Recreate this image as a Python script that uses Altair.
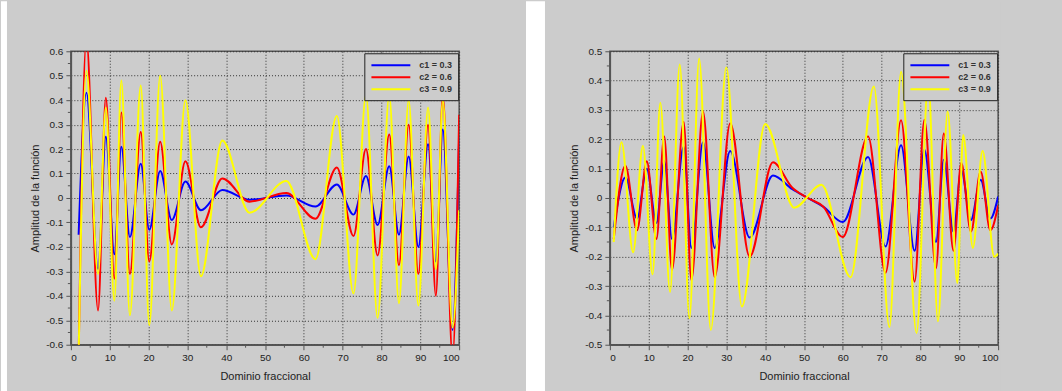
import altair as alt
import pandas as pd

SERIES = ["c1 = 0.3", "c2 = 0.6", "c3 = 0.9"]
COLORS = ["#0000ff", "#ff0000", "#ffff00"]

# ---- left panel (extrema positions) ----
left_x = [2, 4, 7, 9, 11.2, 13, 15.2, 18, 20.2, 23, 26, 29.5, 33.5, 39, 46, 55.5, 63, 68.5, 72.8, 76,
          79, 82, 84.5, 87, 89.5, 92, 94, 95.8, 98.3, 100]
left_c1 = [-0.15, 0.43, -0.29, 0.25, -0.23, 0.21, -0.16, 0.14, -0.13, 0.11, -0.09, 0.067, -0.05, 0.033, -0.007,
           0.01, -0.035, 0.055, -0.068, 0.09, -0.11, 0.13, -0.15, 0.17, -0.2, 0.22, -0.26, 0.28, -0.54, 0.25]
left_c2 = [-0.65, 0.65, -0.46, 0.41, -0.33, 0.35, -0.31, 0.27, -0.26, 0.23, -0.19, 0.15, -0.12, 0.08, -0.015,
           0.02, -0.085, 0.125, -0.155, 0.2, -0.235, 0.26, -0.275, 0.30, -0.31, 0.30, -0.40, 0.42, -0.65, 0.34]
left_c3 = [-0.65, 0.52, -0.31, 0.37, -0.42, 0.48, -0.48, 0.46, -0.52, 0.50, -0.46, 0.40, -0.32, 0.235, -0.06,
           0.07, -0.25, 0.335, -0.39, 0.42, -0.49, 0.42, -0.43, 0.40, -0.44, 0.37, -0.29, 0.40, -0.53, -0.05]

# ---- right panel ----
right_x12 = [1, 4, 7, 9.5, 12, 14, 16, 19, 21, 24, 27, 31, 36, 42, 47, 51, 55, 60, 66.5, 71,
             75, 78.5, 81, 84, 86, 88.5, 90.5, 93, 95.5, 98, 100]
right_c1 = [-0.1, 0.07, -0.07, 0.1, -0.085, 0.125, -0.14, 0.175, -0.17, 0.19, -0.17, 0.16, -0.135, 0.077, 0.03,
            0.0, -0.03, -0.082, 0.14, -0.165, 0.18, -0.18, 0.165, -0.15, 0.13, -0.115, 0.095, -0.075, 0.062, -0.07, 0.005]
right_c2 = [-0.14, 0.11, -0.11, 0.125, -0.14, 0.21, -0.245, 0.26, -0.28, 0.295, -0.27, 0.255, -0.2, 0.122, 0.035,
            0.0, -0.03, -0.133, 0.21, -0.255, 0.265, -0.285, 0.267, -0.24, 0.22, -0.18, 0.12, -0.115, 0.09, -0.11, -0.025]
right_x3 = [1, 3, 6, 8.5, 11, 13, 15.5, 18, 20.5, 23, 26, 30, 34, 40, 47.5, 54.5, 62, 68, 72, 75,
            79, 82, 84.5, 87, 89.5, 91, 93.5, 96, 99, 100]
right_c3 = [-0.15, 0.19, -0.185, 0.177, -0.26, 0.325, -0.32, 0.455, -0.41, 0.475, -0.45, 0.445, -0.37, 0.252, -0.033,
            0.045, -0.27, 0.38, -0.44, 0.43, -0.46, 0.40, -0.42, 0.295, -0.29, 0.215, -0.17, 0.16, -0.2, -0.19]

x_ticks = [0, 10, 20, 30, 40, 50, 60, 70, 80, 90, 100]
x_minor = [5, 15, 25, 35, 45, 55, 65, 75, 85, 95]
left_y_ticks = [-0.6, -0.5, -0.4, -0.3, -0.2, -0.1, 0, 0.1, 0.2, 0.3, 0.4, 0.5, 0.6]
left_y_minor = [-0.55, -0.45, -0.35, -0.25, -0.15, -0.05, 0.05, 0.15, 0.25, 0.35, 0.45, 0.55]
right_y_ticks = [-0.5, -0.4, -0.3, -0.2, -0.1, 0, 0.1, 0.2, 0.3, 0.4, 0.5]
right_y_minor = [-0.45, -0.35, -0.25, -0.15, -0.05, 0.05, 0.15, 0.25, 0.35, 0.45]

W, H = 389, 294
AX = "#555555"
FONT = "Liberation Sans"
BG = "#cccccc"


def long_df(parts):
    rows = []
    for name, xs, ys in parts:
        for xv, yv in zip(xs, ys):
            rows.append({"serie": name, "x": xv, "y": yv})
    return pd.DataFrame(rows)


def panel(df, yticks, yminor, ydom, strips):
    xenc = alt.X("x:Q", scale=alt.Scale(domain=[0, 100], nice=False, zero=False),
                 axis=alt.Axis(values=x_ticks, format="d", title="Dominio fraccional",
                               titleY=32, titleBaseline="middle"))
    yenc = alt.Y("y:Q", scale=alt.Scale(domain=ydom, nice=False, zero=False),
                 axis=alt.Axis(values=yticks, title="Amplitud de la función",
                               labelExpr="datum.value == 0 ? '0' : toString(round(datum.value * 10) / 10)",
                               titleX=-35, titleY=H / 2, titleAngle=-90, titleAlign="center",
                               titleBaseline="middle"))
    lines = alt.Chart(df).mark_line(strokeWidth=2, clip=True, interpolate="monotone").encode(
        x=xenc, y=yenc,
        color=alt.Color("serie:N", sort=SERIES,
                        scale=alt.Scale(domain=SERIES, range=COLORS),
                        legend=alt.Legend(title=None, orient="none", legendX=294, legendY=2,
                                          fillColor=BG, strokeColor="#222222", padding=6,
                                          symbolType="M-1,0H7", symbolSize=95, symbolStrokeWidth=2,
                                          labelOffset=37, labelFont=FONT, labelFontSize=9,
                                          labelFontWeight="bold", labelColor="#333333",
                                          rowPadding=1, cornerRadius=0)),
        order=alt.Order("x:Q"),
    )
    mx = alt.Chart(pd.DataFrame({"x": x_minor})).mark_rule(color=AX, strokeWidth=1).encode(
        x=xenc, y=alt.value(H), y2=alt.value(H + 3))
    my = alt.Chart(pd.DataFrame({"y": yminor})).mark_rule(color=AX, strokeWidth=1).encode(
        y=yenc, x=alt.value(0), x2=alt.value(-3))
    one = pd.DataFrame({"k": [0]})
    layers = []
    for (a, b, col) in strips:
        layers.append(alt.Chart(one).mark_rect(color=col).encode(
            x=alt.value(a), x2=alt.value(b), y=alt.value(-50), y2=alt.value(H + 47)))
    layers += [mx, my, lines]
    return alt.layer(*layers).properties(width=W, height=H)


left_df = long_df([(SERIES[0], left_x, left_c1), (SERIES[1], left_x, left_c2), (SERIES[2], left_x, left_c3)])
right_df = long_df([(SERIES[0], right_x12, right_c1), (SERIES[1], right_x12, right_c2),
                    (SERIES[2], right_x3, right_c3)])

left = panel(left_df, left_y_ticks, left_y_minor, [-0.6, 0.6],
             [(-70, -64, "white"), (W + 67, W + 86, "white")])
right = panel(right_df, right_y_ticks, right_y_minor, [-0.5, 0.5], [(W + 2, W + 63, BG)])

chart = alt.hconcat(left, right, spacing=151, bounds="flush").resolve_scale(
    color="independent").resolve_legend(color="independent").properties(
    background=BG,
    padding=0,
).configure_view(
    stroke=AX, strokeWidth=1.5, fill=None
).configure_axis(
    domainColor=AX, domainWidth=1.5, tickColor=AX, tickSize=5, tickWidth=1,
    grid=True, gridColor="#333333", gridDash=[1, 2], gridWidth=1, gridOpacity=1,
    labelFont=FONT, labelFontSize=10, labelColor="#222222", labelPadding=3,
    titleFont=FONT, titleFontSize=11, titleFontWeight="normal", titleColor="#222222",
)

chart.save("out.html", embed_options={"renderer": "svg", "actions": False})
